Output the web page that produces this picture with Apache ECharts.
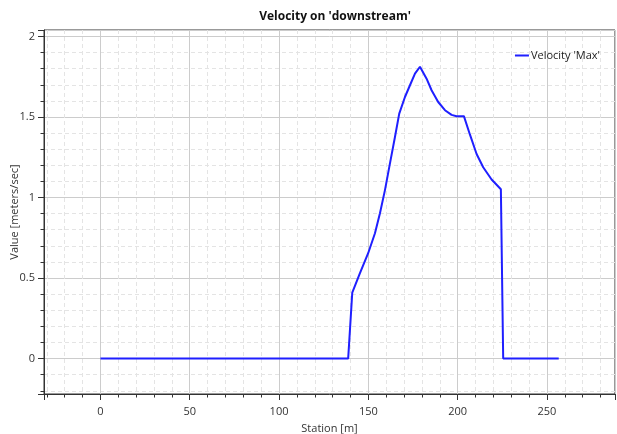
<!DOCTYPE html>
<html>
<head>
<meta charset="utf-8">
<script src="https://cdn.jsdelivr.net/npm/echarts@6/dist/echarts.min.js"></script>
<style>
	html, body { margin: 0; padding: 0; background: #fff; }
	#chart { width: 617px; height: 434px; }
</style>
</head>
<body>
<div id="chart"></div>
<script>
// station along the section [m]
var stations = [0, 138.7, 141.0, 145.3, 149.9, 153.7, 156.5, 159.3, 162.1, 164.9, 167.3, 170.5, 173.3, 176.1,
	178.9, 179.4, 182.6, 185.4, 189.1, 192.9, 196.6, 199.4, 203.5, 206.9, 210.6, 214.3, 219, 224.2, 225.5, 256.6];
// velocity 'Max' [meters/sec]
var velocityMax = [0, 0, 0.41, 0.531, 0.654, 0.778, 0.902, 1.046, 1.212, 1.376, 1.521, 1.624, 1.697, 1.769,
	1.812, 1.816, 1.738, 1.666, 1.593, 1.542, 1.513, 1.505, 1.505, 1.39, 1.27, 1.188, 1.112, 1.051, 0, 0];

var seriesName = "Velocity 'Max'";
var chartTitle = "Velocity on 'downstream'";
var xName = 'Station [m]';
var yName = 'Value [meters/sec]';

var chart = echarts.init(document.getElementById('chart'));

var fontFam = "'Open Sans', 'Noto Sans', sans-serif";

chart.setOption({
	backgroundColor: '#fff',
	animation: false,
	textStyle: { fontFamily: fontFam },
	title: {
		text: chartTitle,
		left: 330,
		textAlign: 'center',
		top: 6,
		textStyle: { fontSize: 12, fontWeight: 'bold', color: '#111', fontFamily: fontFam }
	},
	legend: {
		right: 12,
		top: 45,
		icon: 'rect',
		itemWidth: 14,
		itemHeight: 2,
		itemGap: 4,
		selectedMode: false,
		textStyle: { fontSize: 11, color: '#222', padding: [0, 0, 0, -3] },
		data: [seriesName]
	},
	grid: {
		left: 44,
		right: 2,
		top: 30,
		bottom: 40,
		show: true,
		borderColor: '#333',
		borderWidth: 1,
		containLabel: false,
		outerBoundsMode: 'none'
	},
	xAxis: {
		type: 'value',
		min: -31.6,
		max: 288.1,
		splitNumber: 6,
		name: xName,
		nameLocation: 'middle',
		nameGap: 29,
		nameMoveOverlap: false,
		nameTextStyle: { fontSize: 11, color: '#333' },
		axisLine: { onZero: false, lineStyle: { color: '#333' } },
		axisTick: { show: true, length: 6, lineStyle: { color: '#333' } },
		minorTick: { show: true, splitNumber: 5, length: 3.5, lineStyle: { color: '#333' } },
		axisLabel: { fontSize: 11, color: '#333', margin: 12, showMinLabel: false, showMaxLabel: false },
		splitLine: { show: true, lineStyle: { color: '#cccccc', width: 1 } },
		minorSplitLine: { show: true, lineStyle: { color: '#e4e4e4', type: [4, 3], width: 1 } }
	},
	yAxis: {
		type: 'value',
		min: -0.22,
		max: 2.04,
		splitNumber: 5,
		name: yName,
		nameLocation: 'middle',
		nameGap: 24,
		nameMoveOverlap: false,
		nameTextStyle: { fontSize: 11, color: '#333' },
		axisLine: { show: true, onZero: false, lineStyle: { color: '#333' } },
		axisTick: { show: true, length: 6, lineStyle: { color: '#333' } },
		minorTick: { show: true, splitNumber: 5, length: 3.5, lineStyle: { color: '#333' } },
		axisLabel: { fontSize: 11, color: '#333', margin: 9, showMinLabel: false, showMaxLabel: false },
		splitLine: { show: true, lineStyle: { color: '#cccccc', width: 1 } },
		minorSplitLine: { show: true, lineStyle: { color: '#e4e4e4', type: [4, 3], width: 1 } }
	},
	series: [
		{
			name: seriesName,
			type: 'line',
			symbol: 'none',
			smooth: false,
			color: '#1f1fff',
			lineStyle: { color: '#1f1fff', width: 2 },
			data: stations.map(function (s, i) { return [s, velocityMax[i]]; })
		}
	]
});
</script>
</body>
</html>
